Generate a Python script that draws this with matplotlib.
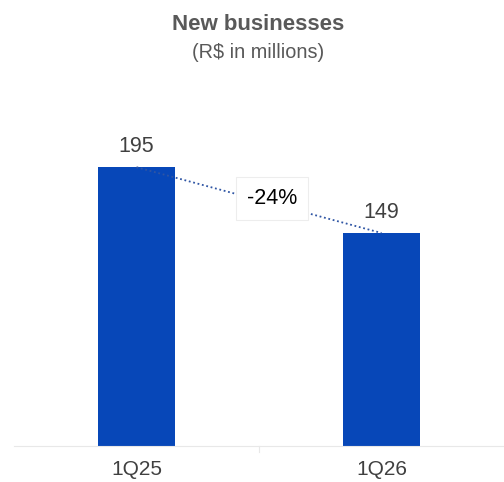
import matplotlib.pyplot as plt

# data
quarters = ["1Q25", "1Q26"]
values = [195, 149]
change_label = "-24%"

plt.rcParams['font.family'] = ['Liberation Sans', 'DejaVu Sans']

fig = plt.figure(figsize=(5.04, 4.82), dpi=100)
ax = fig.add_axes([14/504, 36/482, 490/504, 376/482])

x = list(range(len(quarters)))
ax.bar(x, values, width=0.315, color='#0747B8', zorder=2)

for xi, v in zip(x, values):
    ax.text(xi, v + 7, str(v), ha='center', va='bottom', fontsize=15.5, color='#404040')

# dotted connector between bar tops
ax.plot(x, values, linestyle=(0, (1, 1.5)), color='#2F55A4', linewidth=1.3, zorder=3)
ax.text(0.553, (values[0] + values[1]) / 2 + 1, change_label, ha='center', va='center',
        fontsize=15.5, color='black', zorder=4,
        bbox=dict(boxstyle='square,pad=0.5', facecolor='white', edgecolor='#EDEDED', linewidth=0.8))

ax.set_xlim(-0.5, 1.5)
ax.set_ylim(0, 263)
ax.set_xticks(x)
ax.set_xticklabels(quarters, fontsize=15, color='#404040')
ax.tick_params(axis='x', length=0, pad=10)
ax.set_yticks([])
for s in ['top', 'right', 'left']:
    ax.spines[s].set_visible(False)
ax.spines['bottom'].set_color('#E8E8E8')
ax.axvline(0.5, ymin=-0.015, ymax=0, color='#E8E8E8', linewidth=0.8, clip_on=False)

fig.text(258/504, 1 - 24/482, "New businesses", ha='center', va='center', fontsize=16,
         fontweight='bold', color='#595959')
fig.text(258/504, 1 - 53/482, "(R$ in millions)", ha='center', va='center', fontsize=14.3,
         color='#595959')

plt.savefig("out.png", dpi=100)
